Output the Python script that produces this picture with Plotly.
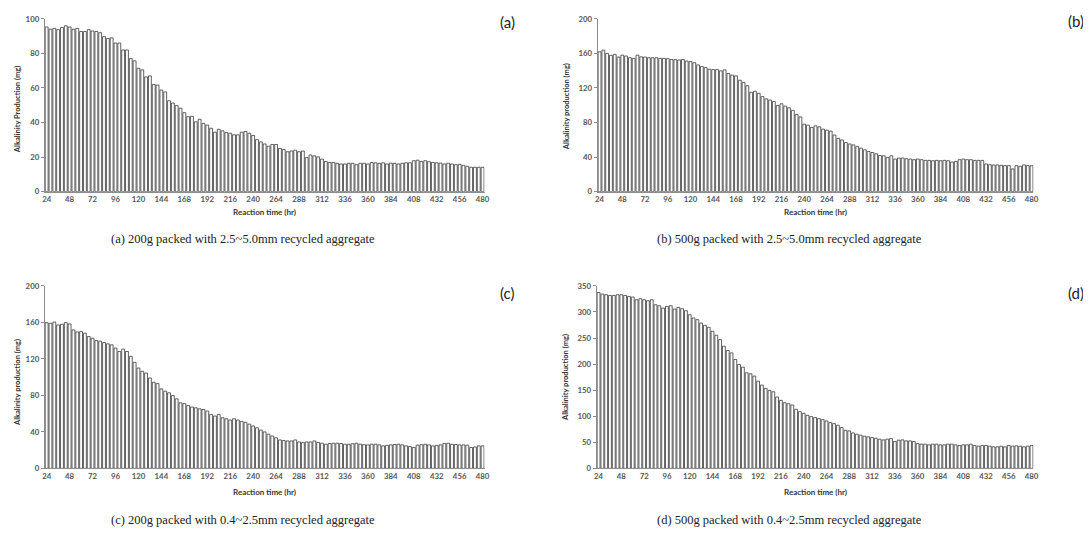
import plotly.graph_objects as go

W, H = 1091, 541

hours = list(range(24, 481, 4))
tick_hours = list(range(24, 481, 24))

alk_a = [95.3, 94, 94.5, 93.8, 95, 96, 95.3, 94, 94.5, 92.7, 92.7, 93.8,
         93, 92.7, 92, 89.7, 88.7, 89, 86, 86, 82, 82, 77, 75.7,
         71.4, 70.5, 66.4, 67, 62, 61.7, 58.8, 57.7, 52.6, 51.3, 49.8, 48.3,
         45.7, 43.4, 43.6, 40.4, 41.9, 39.5, 38.5, 36.7, 34.4, 36.1, 35.2, 34.2,
         33.8, 32.9, 32.9, 34.4, 34.8, 33.8,
         32.5, 30.1, 28.8, 27.6, 26.3, 27.3,
         27.3, 25, 24.4, 23.1, 23.5, 24,
         23.1, 23.5, 19.7, 21.2, 20.7, 20.1,
         18.8, 17.5, 16.9, 16.9, 16.4, 16,
         16, 16.4, 16.4, 15.6, 16.4, 16.4,
         16, 16.9, 16.7, 16.4, 16.7, 16,
         16.5, 16.4, 16, 16.4, 16.7, 16.7,
         17.9, 18.2, 17.5, 17.9, 17.3, 16.9,
         16.7, 16.5, 16, 16.4, 16, 15.6,
         15.8, 15.2, 14.7, 14.1, 14.1, 14.1,
         14.1]

alk_b = [161.9, 163.8, 160, 157.7, 158.9, 155.8, 158, 157, 155, 154.3, 158, 156,
         155.8, 155, 155, 155, 154.3, 154.3, 153.9, 153, 152.8, 152.4, 153, 151.2,
         150.5, 149.3, 146.7, 144.8, 143.6, 141.7, 141.3, 141.3, 139.8, 141, 136.8, 134.9,
         134, 129, 126.5, 122.7, 115, 116.2, 113.9, 110, 107.4,
         106, 104.4, 99.8, 101.7, 99, 97.1, 94.1, 89.5, 86.5, 78.1, 77, 74.3,
         76.2, 75, 72.4, 71.2, 70.1, 65.5, 61.7, 59.8, 56.8, 55.2, 54.1, 52.2,
         50.3, 48.4, 46.5, 45.3, 43.8, 41.9, 41.5, 39.6, 41.5, 37.7, 38.9, 38.9,
         38.1, 37.7, 37, 37.7, 37, 36.2, 36.2, 35.8, 36.2, 35.8, 36.2, 35.8,
         34.3, 35, 37, 37.7, 37, 37, 36.2, 36.2, 36.2, 32, 31.2, 30.9,
         30.9, 30.5, 30.1, 30.1, 26.3, 30.1, 29.3, 30.9, 30.1, 30]

alk_c = [159.7, 159, 160.4, 157.2, 157.9, 159.7, 158.3, 151.7, 149.5, 149.9, 148.1, 144.5,
         142.6, 140.1, 139.4, 137.9, 136.5, 135.4, 131.8, 128.1, 130.7, 128.1, 122.7, 116.2,
         110, 106.4, 104.5, 99.1, 94.4, 92.9, 87.1, 84.6, 82.8, 79.9, 76.2, 71.9,
         71.1, 69, 67.2, 66.4, 65.3, 64.6, 62.8, 59.2, 57.4, 59.2, 55.5, 54.4,
         53, 54.4, 53, 51.5, 50.5, 48.5,
         46.5, 44.5, 42, 40, 37.5, 35.5,
         33.5, 31.2, 30.5, 30.1, 30.1, 31.2,
         29, 28.3, 29, 29, 30.1, 28.5,
         27.6, 26.5, 27.3, 27.6, 27.6, 27.3,
         26.5, 26.5, 27, 27.6, 26.5, 26,
         25.8, 26.5, 26.5, 25.8, 24.7, 25.3,
         25.8, 26.2, 26.5, 25.8, 24.7, 24,
         22.9, 25.5, 26, 26.5, 25.8, 24.7,
         25.3, 25.8, 27.3, 27.6, 26.5, 26.2,
         25.8, 25.8, 25.5, 22.9, 23.5, 24.7,
         24.7]

alk_d = [337.3, 334.2, 333, 331.6, 331.6, 333, 333, 331.6, 329.7, 328.5, 323.4, 325.3,
         323.4, 321.5, 323.4, 313.8, 311.9, 307.4, 310.6, 311.9, 305.5, 308.7, 306.2, 302.4,
         294.7, 288.4, 285.2, 278.8, 274.3, 270.5, 262.9, 255.3, 247, 234.3, 226, 221.5,
         208.8, 199.2, 194.1, 183.3, 181.4, 177, 167.4, 159.8, 153.4, 149.6,
         147, 136.9, 130.5, 126, 124.1, 121.6, 113.3, 108.8, 105.7, 101.8, 99.3, 97.4,
         95.5, 93.6, 91, 87.8, 85.9, 82.8, 78.3, 73.2, 71.9, 68.1, 65.6, 63.7,
         61.7, 60.5, 59.2, 57.9, 56, 54.7, 56, 57.3, 51.6, 54.1, 54.7, 52.8,
         52.8, 51.6, 47.7, 46.5, 46.5, 45.2, 46.5, 46.5, 45.2, 45.2, 46.5, 46.5,
         45.2, 43.9, 45.2, 45.2, 46.5, 43.9, 42.6, 43.9, 43.9, 42.6, 41.4, 41.4,
         42.6, 41.4, 43.9, 42.6, 43.3, 42.6, 41.4, 42.6, 43.9]

panel_tags = ["(a)", "(b)", "(c)", "(d)"]
y_titles = ["Alkalinity Production (mg)", "Alkalinity production (mg)",
            "Alkalinity production (mg)", "Alkalinity production (mg)"]
x_title = "Reaction time (hr)"
captions = ["(a) 200g packed with 2.5~5.0mm recycled aggregate",
            "(b) 500g packed with 2.5~5.0mm recycled aggregate",
            "(c) 200g packed with 0.4~2.5mm recycled aggregate",
            "(d) 500g packed with 0.4~2.5mm recycled aggregate"]
y_max = [100, 200, 200, 350]
y_step = [20, 40, 40, 50]
series = [alk_a, alk_b, alk_c, alk_d]

# plot-area boxes in pixels: left, right, top, bottom
boxes = [(34, 477, 6, 182), (591, 1030, 6, 182),
         (34, 477, 278, 464), (590, 1030, 278, 464)]
tag_pos = [(500, 9), (1073, 8), (500, 285), (1073, 285)]
ytitle_pos = [(6, 98), (559, 95), (6, 376), (558, 371)]
xtitle_y = [203, 203, 488, 488]
caption_pos = [(234, 230), (784, 230), (234, 517), (784, 517)]


def px(x):
    return x / W


def py(y):
    return 1 - y / H


fig = go.Figure()
annotations = []
tick_font = dict(family="Lato", size=7.8, color="#555555", weight="bold")
axis_line = "#8c8c8c"

for i in range(4):
    n = "" if i == 0 else str(i + 1)
    fig.add_trace(go.Bar(
        x=hours, y=series[i], xaxis="x" + n, yaxis="y" + n,
        marker=dict(color="white", line=dict(color="#3a3a3a", width=0.8)),
        width=3.0, hoverinfo="x+y"))
    l, r, t, b = boxes[i]
    fig.layout["xaxis" + n] = dict(
        domain=[px(l), px(r)], anchor="y" + n, range=[22, 482],
        tickmode="array", tickvals=tick_hours, ticktext=[str(v) for v in tick_hours],
        tickfont=tick_font, showline=True, linecolor=axis_line, linewidth=1,
        ticks="", showgrid=False, zeroline=False, fixedrange=True)
    fig.layout["yaxis" + n] = dict(
        domain=[py(b), py(t)], anchor="x" + n, range=[0, y_max[i]],
        tickmode="array", tickvals=list(range(0, y_max[i] + 1, y_step[i])),
        tickfont=tick_font, showline=True, linecolor=axis_line, linewidth=1,
        ticks="outside", ticklen=3, tickcolor=axis_line,
        showgrid=False, zeroline=False, fixedrange=True)

    tx, ty = tag_pos[i]
    annotations.append(dict(text=panel_tags[i], x=px(tx), y=py(ty), xref="paper", yref="paper",
                            showarrow=False, xanchor="center", yanchor="middle",
                            font=dict(family="Lato", size=15, color="#222222")))
    yx, yy = ytitle_pos[i]
    annotations.append(dict(text=y_titles[i], x=px(yx), y=py(yy), xref="paper", yref="paper",
                            showarrow=False, textangle=-90, xanchor="center", yanchor="middle",
                            font=dict(family="Lato", size=7.5, color="#333333", weight="bold")))
    annotations.append(dict(text=x_title, x=px((l + r) / 2), y=py(xtitle_y[i]), xref="paper", yref="paper",
                            showarrow=False, xanchor="center", yanchor="middle",
                            font=dict(family="Lato", size=8, color="#333333", weight="bold")))
    cx, cy = caption_pos[i]
    annotations.append(dict(text=captions[i], x=px(cx), y=py(cy), xref="paper", yref="paper",
                            showarrow=False, xanchor="center", yanchor="middle",
                            font=dict(family="Liberation Serif", size=12.5, color="#222222")))

fig.update_layout(width=W, height=H, margin=dict(l=0, r=0, t=0, b=0),
                  paper_bgcolor="white", plot_bgcolor="white", showlegend=False,
                  bargap=0.2, annotations=annotations)

fig.write_html("out.html")
